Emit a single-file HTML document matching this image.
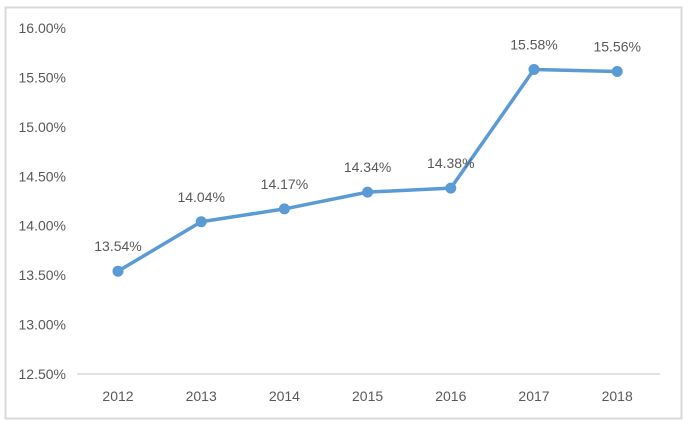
<!DOCTYPE html>
<html><head><meta charset="utf-8"><style>
body{margin:0;background:#fff;}
svg{display:block;font-family:"Liberation Sans",sans-serif;}
</style></head><body>
<svg id="c" width="688" height="425">
<rect x="5.5" y="7.5" width="676" height="411" fill="#fff" stroke="#d9d9d9" stroke-width="2"/>
</svg>
<script>
const categories=["2012","2013","2014","2015","2016","2017","2018"];
const values=[13.54,14.04,14.17,14.34,14.38,15.58,15.56];
const valueLabels=["13.54%","14.04%","14.17%","14.34%","14.38%","15.58%","15.56%"];
const yTicks=[12.5,13,13.5,14,14.5,15,15.5,16];
const yTickLabels=["12.50%","13.00%","13.50%","14.00%","14.50%","15.00%","15.50%","16.00%"];
const svg=document.getElementById('c');
const NS='http://www.w3.org/2000/svg';
const yMin=12.5,yMax=16,yTop=28,yBot=374;
const y=v=>yBot-(v-yMin)/(yMax-yMin)*(yBot-yTop);
const x0=118,step=83.2;
const x=i=>x0+i*step;
function mk(t,a){const e=document.createElementNS(NS,t);for(const k in a)e.setAttribute(k,a[k]);svg.appendChild(e);return e;}
yTicks.forEach((v,i)=>{
 const t=mk('text',{x:66,y:y(v)+5,'text-anchor':'end','font-size':14,fill:'#595959'});
 t.textContent=yTickLabels[i];
 
 
});
const ax=mk('line',{x1:77,x2:660,y1:yBot,y2:yBot,stroke:'#d9d9d9','stroke-width':1.5});


categories.forEach((c,i)=>{
 const t=mk('text',{x:x(i),y:401,'text-anchor':'middle','font-size':14,fill:'#595959'});
 t.textContent=c;
 
 
});
const pl=mk('polyline',{points:values.map((v,i)=>x(i)+','+y(v)).join(' '),fill:'none',stroke:'#5b9bd5','stroke-width':3.5,'stroke-linejoin':'round'});


values.forEach((v,i)=>{
 const p=mk('circle',{cx:x(i),cy:y(v),r:5.5,fill:'#5b9bd5'});
 
 
 const t=mk('text',{x:x(i),y:y(v)-20,'text-anchor':'middle','font-size':14,fill:'#595959'});
 t.textContent=valueLabels[i];
 
 
});
</script>
</body></html>
